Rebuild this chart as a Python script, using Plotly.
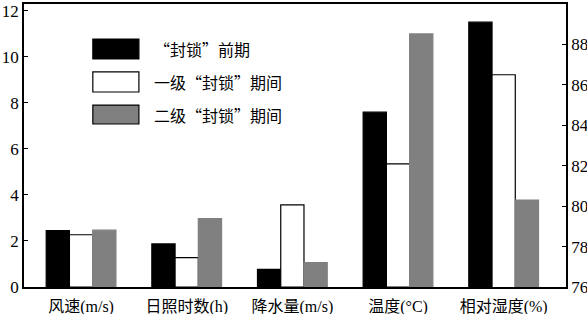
import plotly.graph_objects as go

categories = ["风速(m/s)", "日照时数(h)", "降水量(m/s)", "温度(°C)", "相对湿度(%)"]
series_names = ["“封锁”前期", "一级“封锁”期间", "二级“封锁”期间"]
# left-axis variables (first four categories)
pre_lockdown = [2.45, 1.87, 0.77, 7.6]
level1_lockdown = [2.27, 1.28, 3.57, 5.35]
level2_lockdown = [2.47, 2.97, 1.06, 11.0]
# right-axis variable (relative humidity, %)
humidity = [89.1, 86.5, 80.3]
left_ticks = [0, 2, 4, 6, 8, 10, 12]
right_ticks = [76, 78, 80, 82, 84, 86, 88, 90]

fills = ["#000000", "#ffffff", "#808080"]
lines = ["#000000", "#000000", "#808080"]
offsets = [-0.33, -0.11, 0.11]
W = 0.22

fig = go.Figure()
left_series = [pre_lockdown, level1_lockdown, level2_lockdown]
for i in range(3):
    fig.add_trace(go.Bar(
        x=list(range(4)), y=left_series[i], name=series_names[i],
        width=W, offset=offsets[i],
        marker=dict(color=fills[i], line=dict(color=lines[i], width=1.2)),
        showlegend=False))
    fig.add_trace(go.Bar(
        x=[4], y=[humidity[i]], yaxis="y2", name=series_names[i],
        width=W, offset=offsets[i],
        marker=dict(color=fills[i], line=dict(color=lines[i], width=1.2)),
        showlegend=False))

# legend drawn as boxes + text
box_y = [(0.876, 0.806), (0.760, 0.689), (0.643, 0.576)]
for i in range(3):
    y0, y1 = box_y[i][1], box_y[i][0]
    fig.add_shape(type="rect", xref="paper", yref="paper",
                  x0=0.127, x1=0.212, y0=y0, y1=y1,
                  fillcolor=fills[i], line=dict(color="#000000", width=1.2))
    fig.add_annotation(xref="paper", yref="paper", x=0.237, y=(y0 + y1) / 2,
                       text=series_names[i], showarrow=False, xanchor="left",
                       yanchor="middle",
                       font=dict(family="Noto Sans CJK SC", size=16, color="#000"))

serif = "Liberation Serif, Noto Sans CJK SC"
fig.update_layout(
    width=587, height=314,
    margin=dict(l=24, r=21, t=4, b=27, autoexpand=False),
    paper_bgcolor="white", plot_bgcolor="white",
    barmode="overlay",
    xaxis=dict(range=[-0.54, 4.59], tickvals=list(range(5)), ticktext=categories,
               showline=True, linecolor="#000", linewidth=1.5, mirror=True,
               ticks="", showgrid=False, zeroline=False, automargin=False,
               ticklabelstandoff=4,
               tickfont=dict(family=serif, size=16, color="#000")),
    yaxis=dict(range=[0, 12.3], tickvals=left_ticks, showline=True,
               linecolor="#000", linewidth=1.5, ticks="inside", ticklen=4,
               tickcolor="#000", showgrid=False, zeroline=False, automargin=False,
               tickfont=dict(family=serif, size=17, color="#000")),
    yaxis2=dict(range=[76, 90], tickvals=right_ticks, overlaying="y",
                side="right", showline=True, linecolor="#000", linewidth=1.5,
                ticks="inside", ticklen=4, tickcolor="#000", showgrid=False,
                zeroline=False, automargin=False,
                tickfont=dict(family=serif, size=17, color="#000")),
)

fig.write_html("out.html", config={"displayModeBar": False},
               post_script="document.body.style.margin='0';document.body.style.overflow='hidden';")
